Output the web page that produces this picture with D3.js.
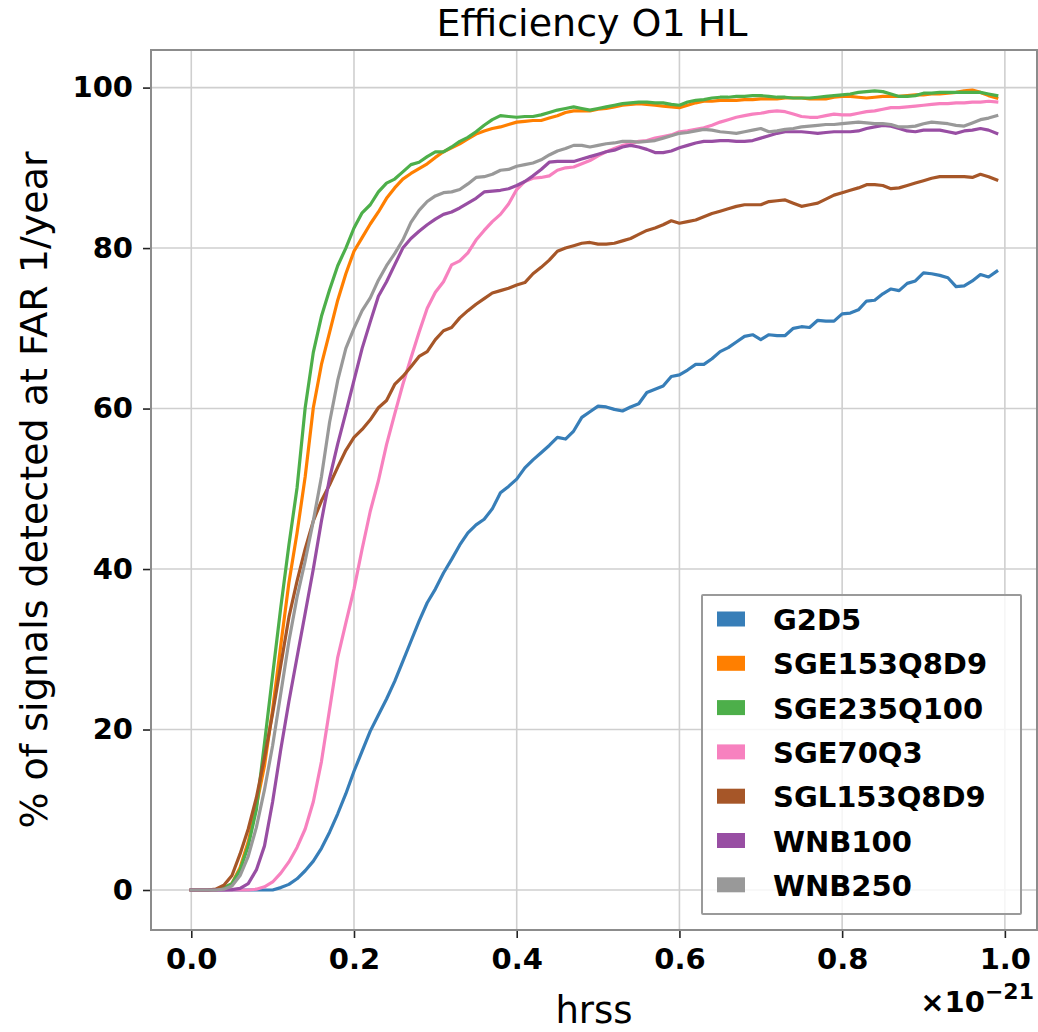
<!DOCTYPE html>
<html>
<head>
<meta charset="utf-8">
<script src="https://cdn.jsdelivr.net/npm/d3@7"></script>
<style>
  html, body { margin: 0; padding: 0; background: #fff; }
  svg { display: block; }
</style>
</head>
<body>
<svg id="chart" width="1038" height="1032"></svg>
<script>
// ---- Data ----
const hrss = d3.range(100).map(i => +(i * 0.01).toFixed(2)); // units of 1e-21

const seriesNames = ["G2D5", "SGE153Q8D9", "SGE235Q100", "SGE70Q3", "SGL153Q8D9", "WNB100", "WNB250"];
const seriesColors = ["#377eb8", "#ff7f00", "#4daf4a", "#f781bf", "#a65628", "#984ea3", "#999999"];

const G2D5 = [0,0,0,0,0,0,0,0,0,0,
  0,0.3,0.7,1.4,2.4,3.6,5.2,7.2,9.5,12.0,
  14.8,17.3,19.8,21.8,23.8,26.0,28.5,31.0,33.5,35.8,
  37.5,39.5,41.2,43.0,44.5,45.5,46.2,47.5,49.5,50.3,
  51.2,52.6,53.6,54.5,55.4,56.4,56.2,57.2,58.9,59.6,
  60.3,60.2,59.9,59.7,60.2,60.6,62.0,62.4,62.8,64.0,
  64.2,64.8,65.5,65.5,66.2,67.1,67.6,68.3,69.0,69.2,
  68.6,69.2,69.1,69.1,70.0,70.2,70.1,71.0,70.9,70.9,
  71.8,71.9,72.3,73.4,73.5,74.3,74.9,74.7,75.6,75.9,
  76.9,76.8,76.6,76.3,75.2,75.3,75.9,76.7,76.4,77.1];

const SGE153Q8D9 = [0,0,0,0,0.2,0.8,2.8,6.0,10.5,15.5,
  22.5,30.5,38.3,44.5,51.5,60.1,65.5,69.5,73.5,76.8,
  79.6,81.3,83.0,84.5,86.2,87.5,88.6,89.3,89.9,90.5,
  91.3,92.0,92.5,93.0,93.6,94.2,94.6,94.9,95.1,95.4,
  95.7,95.8,95.9,95.9,96.2,96.5,96.9,97.1,97.1,97.1,
  97.3,97.4,97.6,97.8,97.9,98.0,97.9,97.8,97.7,97.6,
  97.5,97.8,98.1,98.3,98.3,98.4,98.4,98.4,98.5,98.5,
  98.6,98.6,98.6,98.7,98.7,98.7,98.6,98.6,98.6,98.8,
  98.9,98.9,98.8,98.7,98.8,98.9,98.9,98.9,99.0,99.1,
  99.1,99.2,99.2,99.3,99.4,99.6,99.7,99.4,99.0,98.7];

const SGE235Q100 = [0,0,0,0,0.3,0.8,2.5,5.5,10.0,18.3,
  26.8,35.2,43.0,50.1,60.1,67.0,71.5,74.8,77.8,80.0,
  82.5,84.4,85.4,87.0,88.1,88.6,89.5,90.4,90.7,91.4,
  92.0,92.0,92.6,93.3,93.8,94.5,95.3,96.0,96.5,96.4,
  96.3,96.4,96.4,96.6,96.9,97.2,97.4,97.6,97.4,97.2,
  97.4,97.6,97.8,98.0,98.1,98.2,98.2,98.1,98.1,97.9,
  97.8,98.2,98.4,98.5,98.7,98.8,98.8,98.9,98.9,99.0,
  99.0,98.9,98.8,98.8,98.7,98.7,98.7,98.8,98.9,99.0,
  99.1,99.2,99.4,99.5,99.6,99.5,99.2,98.9,98.9,99.0,
  99.3,99.3,99.4,99.4,99.4,99.4,99.4,99.4,99.2,99.0];

const SGE70Q3 = [0,0,0,0,0,0,0,0,0.1,0.4,
  1.0,2.1,3.5,5.3,7.6,11.0,16.0,22.5,29.0,33.3,
  37.5,42.5,47.2,51.0,55.5,59.3,63.0,66.3,69.5,72.5,
  74.5,75.8,77.9,78.4,79.4,81.0,82.2,83.3,84.2,85.5,
  87.3,88.3,88.7,88.8,89.0,89.7,90.0,90.1,90.5,90.9,
  91.5,92.0,92.4,92.8,93.0,93.3,93.4,93.7,93.9,94.1,
  94.5,94.6,94.8,95.0,95.3,95.7,96.0,96.3,96.5,96.7,
  96.8,97.0,97.1,97.0,96.7,96.4,96.3,96.3,96.5,96.7,
  96.6,96.6,96.8,97.0,97.1,97.3,97.5,97.5,97.6,97.7,
  97.8,97.9,98.0,98.0,98.1,98.1,98.2,98.2,98.3,98.2];

const SGL153Q8D9 = [0,0,0,0.1,0.6,1.8,4.5,7.6,11.5,16.5,
  22.0,28.0,34.0,38.5,42.5,46.0,48.5,50.5,52.7,54.8,
  56.4,57.4,58.6,60.1,61.0,63.0,64.0,65.2,66.5,67.1,
  68.6,69.7,70.1,71.3,72.2,73.0,73.7,74.4,74.7,75.0,
  75.4,75.7,76.8,77.6,78.5,79.6,80.0,80.3,80.6,80.7,
  80.5,80.5,80.6,80.9,81.2,81.7,82.2,82.5,82.9,83.4,
  83.1,83.3,83.5,83.9,84.3,84.6,84.9,85.2,85.4,85.4,
  85.4,85.8,85.9,86.0,85.6,85.2,85.4,85.6,86.1,86.6,
  86.9,87.2,87.5,87.9,87.9,87.8,87.4,87.5,87.8,88.1,
  88.4,88.7,88.9,88.9,88.9,88.9,88.8,89.2,88.9,88.5];

const WNB100 = [0,0,0,0,0,0.05,0.2,0.8,2.5,5.5,
  11.0,17.5,23.5,29.0,34.5,40.0,46.0,51.3,55.6,59.5,
  63.5,67.5,70.8,74.0,75.8,77.9,80.0,81.2,82.1,82.9,
  83.6,84.2,84.5,85.0,85.6,86.2,87.0,87.1,87.2,87.4,
  87.8,88.3,89.0,89.8,90.7,90.8,90.8,90.8,91.1,91.4,
  91.7,92.0,92.2,92.6,92.8,92.6,92.3,91.9,91.9,92.1,
  92.5,92.8,93.1,93.3,93.3,93.4,93.4,93.3,93.3,93.4,
  93.7,94.0,94.3,94.5,94.5,94.5,94.4,94.3,94.4,94.5,
  94.5,94.5,94.6,94.9,95.1,95.3,95.2,94.9,94.6,94.5,
  94.7,94.7,94.7,94.5,94.3,94.6,94.7,94.9,94.7,94.3];

const WNB250 = [0,0,0,0,0.1,0.5,1.8,4.2,7.8,12.5,
  18.0,24.5,31.0,36.5,41.0,46.0,51.5,58.3,63.5,67.5,
  70.0,72.2,73.8,76.0,77.8,79.3,81.0,83.2,84.7,85.8,
  86.5,86.9,87.0,87.3,88.0,88.8,88.9,89.2,89.7,89.8,
  90.2,90.4,90.6,91.0,91.6,92.1,92.4,92.8,92.8,92.6,
  92.8,93.0,93.1,93.3,93.3,93.2,93.3,93.4,93.7,94.0,
  94.3,94.4,94.6,94.8,94.7,94.5,94.4,94.3,94.5,94.7,
  94.9,94.5,94.6,94.8,94.9,95.1,95.2,95.3,95.4,95.4,
  95.5,95.6,95.7,95.6,95.5,95.5,95.4,95.1,95.1,95.2,
  95.5,95.7,95.6,95.5,95.3,95.2,95.6,96.0,96.2,96.5];

const seriesValues = [G2D5, SGE153Q8D9, SGE235Q100, SGE70Q3, SGL153Q8D9, WNB100, WNB250];

const xTicks = [0.0, 0.2, 0.4, 0.6, 0.8, 1.0];
const yTicks = [0, 20, 40, 60, 80, 100];
const titleText = "Efficiency O1 HL";
const xLabelText = "hrss";
const yLabelText = "% of signals detected at FAR 1/year";

// ---- Layout ----
const svg = d3.select("#chart");
const plot = { left: 151, right: 1037, top: 50, bottom: 930 };
const FONT = "'DejaVu Sans', sans-serif";

const xMin = 0, xMax = 0.99, yMin = 0, yMax = 99.7;
const xPad = (xMax - xMin) * 0.05, yPad = (yMax - yMin) * 0.05;
const x = d3.scaleLinear().domain([xMin - xPad, xMax + xPad]).range([plot.left, plot.right]);
const y = d3.scaleLinear().domain([yMin - yPad, yMax + yPad]).range([plot.bottom, plot.top]);

// Grid
const grid = svg.append("g");
grid.selectAll("line.gx").data(xTicks).join("line")
  .attr("x1", d => x(d)).attr("x2", d => x(d))
  .attr("y1", plot.top).attr("y2", plot.bottom)
  .attr("stroke", "#cfcfcf").attr("stroke-width", 1.6);
grid.selectAll("line.gy").data(yTicks).join("line")
  .attr("y1", d => y(d)).attr("y2", d => y(d))
  .attr("x1", plot.left).attr("x2", plot.right)
  .attr("stroke", "#cfcfcf").attr("stroke-width", 1.6);

// Lines
const line = d3.line().x((d, i) => x(hrss[i])).y(d => y(d));
svg.append("clipPath").attr("id", "clip").append("rect")
  .attr("x", plot.left).attr("y", plot.top)
  .attr("width", plot.right - plot.left).attr("height", plot.bottom - plot.top);
const lines = svg.append("g").attr("clip-path", "url(#clip)");
seriesValues.forEach((vals, k) => {
  lines.append("path").datum(vals)
    .attr("d", line)
    .attr("fill", "none")
    .attr("stroke", seriesColors[k])
    .attr("stroke-width", 3.2)
    .attr("stroke-linejoin", "round")
    .attr("stroke-linecap", "square");
});

// Axes
const xAxis = d3.axisBottom(x).tickValues(xTicks).tickFormat(d3.format(".1f")).tickSize(8).tickPadding(10);
const yAxis = d3.axisLeft(y).tickValues(yTicks).tickFormat(d3.format("d")).tickSize(8).tickPadding(10);

const gx = svg.append("g").attr("transform", `translate(0,${plot.bottom})`).call(xAxis);
const gy = svg.append("g").attr("transform", `translate(${plot.left},0)`).call(yAxis);
[gx, gy].forEach(g => {
  g.select(".domain").remove();
  g.selectAll(".tick line").attr("stroke", "#222").attr("stroke-width", 1.6);
  g.selectAll(".tick text").attr("font-family", FONT).attr("font-weight", "bold")
    .attr("font-size", 29).attr("fill", "#000");
});

// Frame
svg.append("rect")
  .attr("x", plot.left).attr("y", plot.top)
  .attr("width", plot.right - plot.left).attr("height", plot.bottom - plot.top)
  .attr("fill", "none").attr("stroke", "#8c8c8c").attr("stroke-width", 2);

// Title and labels
svg.append("text").attr("x", (plot.left + plot.right) / 2 - 2).attr("y", 36)
  .attr("text-anchor", "middle").attr("font-family", FONT).attr("font-size", 38)
  .attr("fill", "#000").text(titleText);
svg.append("text").attr("x", (plot.left + plot.right) / 2).attr("y", 1023)
  .attr("text-anchor", "middle").attr("font-family", FONT).attr("font-size", 37)
  .attr("fill", "#000").text(xLabelText);
svg.append("text")
  .attr("transform", `translate(47,${(plot.top + plot.bottom) / 2}) rotate(-90)`)
  .attr("text-anchor", "middle").attr("font-family", FONT).attr("font-size", 38)
  .attr("fill", "#000").text(yLabelText);

// Offset text
const off = svg.append("text").attr("x", plot.right - 3).attr("y", 1012)
  .attr("text-anchor", "end").attr("font-family", FONT).attr("font-weight", "bold")
  .attr("font-size", 29).attr("fill", "#000");
off.append("tspan").text("×10");
off.append("tspan").attr("dy", -13).attr("font-size", 22).text("−21");

// Legend
const lg = { x: 702, y: 595, w: 319, h: 319, rowH: 44.3, first: 619 };
svg.append("rect").attr("x", lg.x).attr("y", lg.y).attr("width", lg.w).attr("height", lg.h)
  .attr("fill", "#fff").attr("fill-opacity", 0.8)
  .attr("stroke", "#9a9a9a").attr("stroke-width", 2).attr("rx", 1);
const items = svg.append("g").selectAll("g").data(seriesNames).join("g")
  .attr("transform", (d, i) => `translate(0,${lg.first + i * lg.rowH})`);
items.append("rect").attr("x", 717).attr("y", -7.5).attr("width", 28).attr("height", 15)
  .attr("fill", (d, i) => seriesColors[i]);
items.append("text").attr("x", 773).attr("y", 11)
  .attr("font-family", FONT).attr("font-weight", "bold").attr("font-size", 29)
  .attr("fill", "#000").text(d => d);
</script>
</body>
</html>
